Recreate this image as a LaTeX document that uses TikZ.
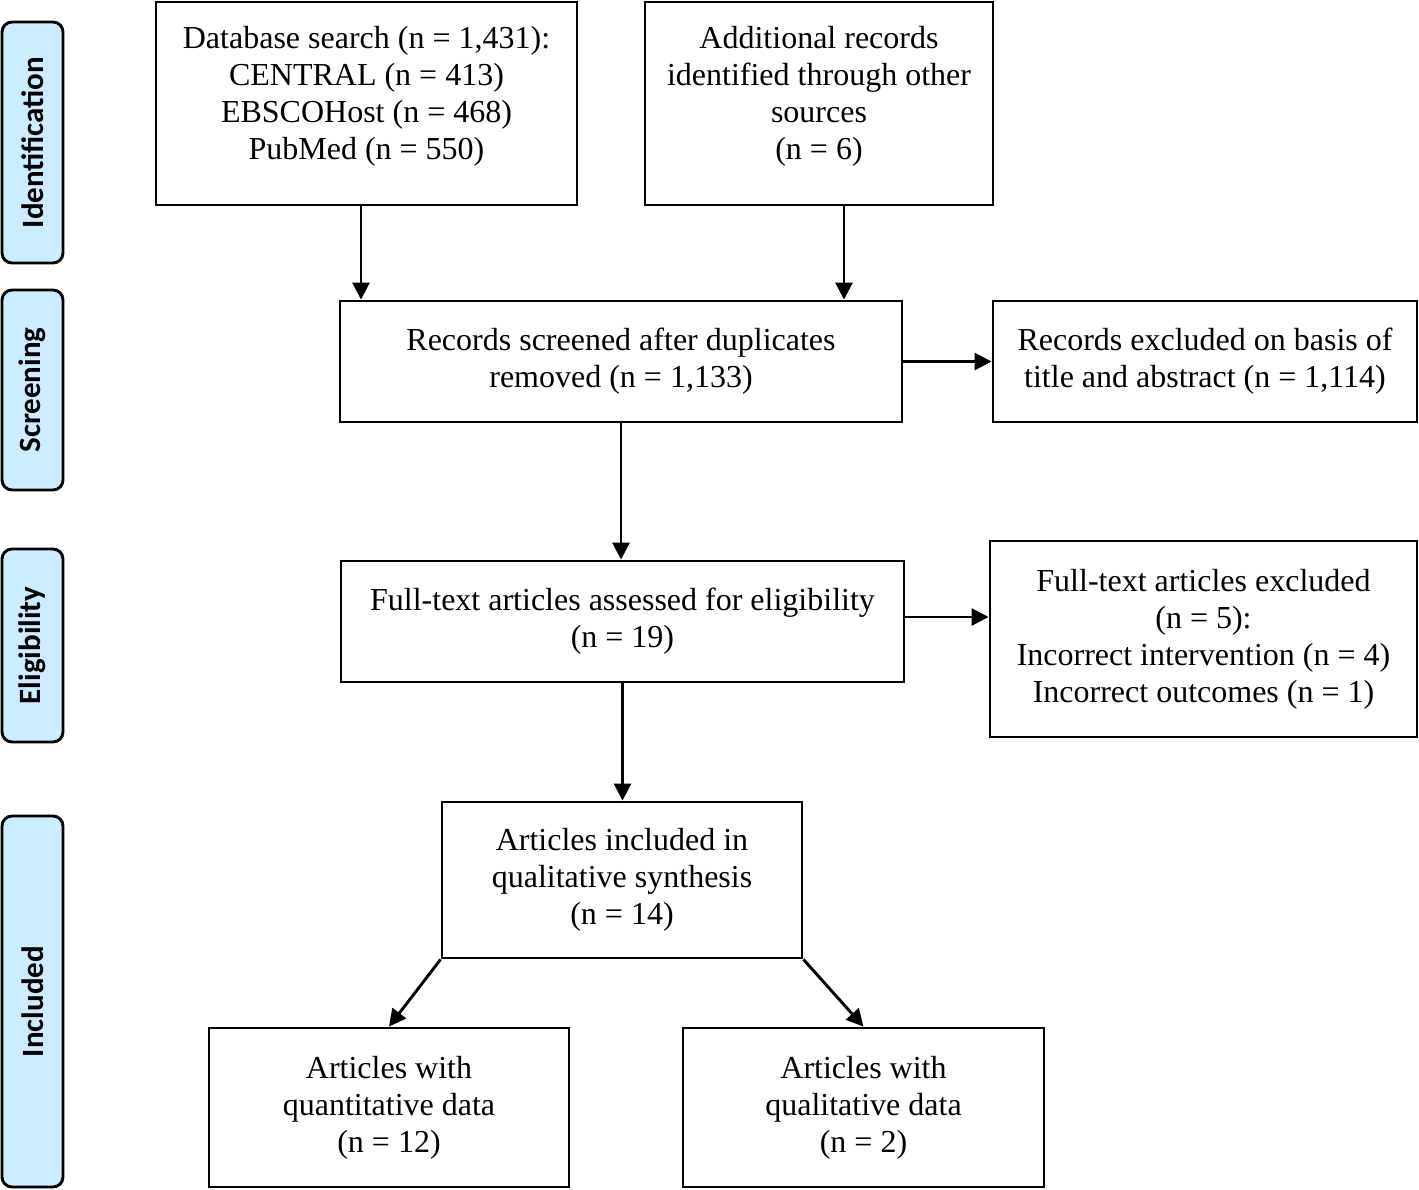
\documentclass[tikz,border=0pt]{standalone}
\usepackage{fontspec}
\setmainfont{Liberation Serif}
\newfontfamily\sidefont{Carlito}
\usetikzlibrary{arrows.meta}
\definecolor{sideblue}{RGB}{204,236,255}
\begin{document}
\begin{tikzpicture}[x=0.5pt,y=-0.5pt,
  box/.style={draw=black,line width=1.45pt,fill=white,align=center,inner sep=0pt,
    font=\fontsize{16}{18.5}\selectfont},
  side/.style={draw=black,line width=1.45pt,fill=sideblue,rounded corners=5pt,rotate=90,
    inner sep=0pt,font=\sidefont\bfseries\fontsize{15.5}{18}\selectfont},
  arr/.style={draw=black,line width=1.45pt,-{Triangle[length=8.5pt,width=8.5pt]}}]
\useasboundingbox[fill=white] (0,0) rectangle (1419,1189);
% side labels
\node[side,minimum width=120.5pt,minimum height=30.5pt] (sid) at (32.5,142.5) {Identification};
\node[side,minimum width=100pt,minimum height=30.5pt] (ssc) at (32.5,390) {Screening};
\node[side,minimum width=96.5pt,minimum height=30.5pt] (sel) at (32.5,645.5) {Eligibility};
\node[side,minimum width=185.5pt,minimum height=30.5pt] (sin) at (32.5,1001.5) {Included};
% boxes
\node[box,minimum width=210.5pt,minimum height=101.5pt] (db) at (366.5,103.5)
  {Database search (n = 1,431):\\CENTRAL (n = 413)\\EBSCOHost (n = 468)\\PubMed (n = 550)\vspace{7pt}};
\node[box,minimum width=174pt,minimum height=101.5pt] (add) at (819,103.5)
  {Additional records\\identified through other\\sources\\(n = 6)\vspace{7pt}};
\node[box,minimum width=281pt,minimum height=60.5pt] (scr) at (621,361.5)
  {Records screened after duplicates\\removed (n = 1,133)};
\node[box,minimum width=212pt,minimum height=60.5pt] (ex1) at (1205,361.5)
  {Records excluded on basis of\\title and abstract (n = 1,114)};
\node[box,minimum width=281.5pt,minimum height=60.5pt] (ft) at (622.5,621.5)
  {Full-text articles assessed for eligibility\\(n = 19)};
\node[box,minimum width=213.5pt,minimum height=98pt] (ex2) at (1203.5,639)
  {Full-text articles excluded\\(n = 5):\\Incorrect intervention (n = 4)\\Incorrect outcomes (n = 1)};
\node[box,minimum width=180pt,minimum height=78pt] (inc) at (622,880)
  {Articles included in\\qualitative synthesis\\(n = 14)};
\node[box,minimum width=180pt,minimum height=79.5pt] (qt) at (389,1107.5)
  {Articles with\\quantitative data\\(n = 12)};
\node[box,minimum width=180.5pt,minimum height=79.5pt] (ql) at (863.5,1107.5)
  {Articles with\\qualitative data\\(n = 2)};
% connectors
\draw[arr] (361,0 |- db.south) -- (361,0 |- scr.north);
\draw[arr] (844,0 |- add.south) -- (844,0 |- scr.north);
\draw[arr] (scr.east) -- (ex1.west);
\draw[arr] (scr.south) -- (scr.south |- ft.north);
\draw[arr] (ft.east |- 0,617) -- (ex2.west |- 0,617);
\draw[arr] (ft.south) -- (ft.south |- inc.north);
\draw[arr] (inc.south west) -- (qt.north);
\draw[arr] (inc.south east) -- (ql.north);
\end{tikzpicture}
\end{document}
